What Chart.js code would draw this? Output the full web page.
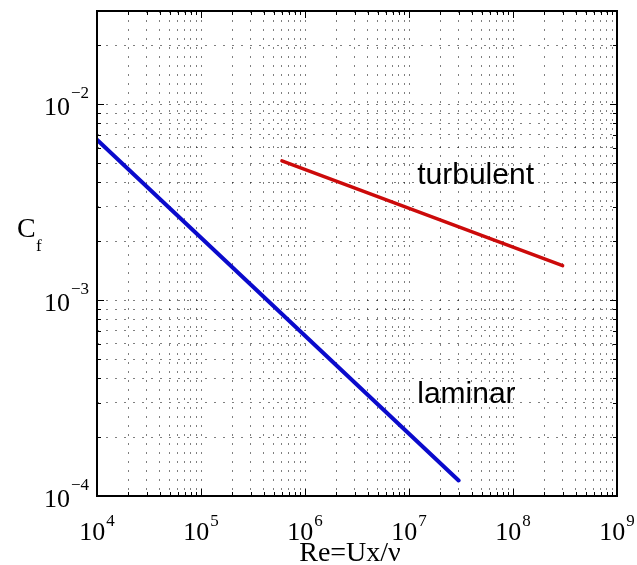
<!DOCTYPE html>
<html>
<head>
<meta charset="utf-8">
<script src="https://cdn.jsdelivr.net/npm/chart.js@4.4.0/dist/chart.umd.min.js"></script>
<style>
  html, body { margin: 0; padding: 0; background: #fff; }
  canvas { display: block; }
</style>
</head>
<body>
<canvas id="cf" width="637" height="565"></canvas>
<script>
// skin friction coefficient against Reynolds number, log-log
var laminarRe = [1e4, 3e7];
var laminarCf = [6.6e-3, 1.2e-4];
var turbulentRe = [6e5, 3e8];
var turbulentCf = [5.15e-3, 1.5e-3];

var xExponents = [4, 5, 6, 7, 8, 9];
var yExponents = [-4, -3, -2];
var xRange = [1e4, 1e9];
var yRange = [1e-4, 3e-2];

var curveNames = ['turbulent', 'laminar'];
var curveNameRe = [1.2e7, 1.2e7];
var curveNameCf = [3.9e-3, 3e-4];

function toPoints(xs, ys) {
  return xs.map(function (x, i) { return {x: x, y: ys[i]}; });
}

// 1..9 in every decade, kept inside the axis limits
function logTicks(lo, hi) {
  var out = [];
  for (var e = Math.floor(Math.log10(lo)); e <= Math.ceil(Math.log10(hi)); e++) {
    for (var m = 1; m <= 9; m++) {
      var v = m * Math.pow(10, e);
      if (v >= lo * 0.999 && v <= hi * 1.001) out.push({value: v});
    }
  }
  return out;
}

function isDecade(v) {
  var l = Math.log10(v);
  return Math.abs(l - Math.round(l)) < 1e-6;
}

var SERIF = '"Liberation Serif", "Times New Roman", serif';

// draws 10 with a raised exponent, x is the left edge
function drawPower(ctx, e, x, y, yExp) {
  var exp = e < 0 ? '\u2212' + (-e) : String(e);
  ctx.font = '26px ' + SERIF;
  ctx.fillText('10', x, y);
  var w = ctx.measureText('10').width;
  ctx.font = '17px ' + SERIF;
  ctx.fillText(exp, x + w + 1, yExp);
}

function powerWidth(ctx, e) {
  var exp = e < 0 ? '\u2212' + (-e) : String(e);
  ctx.font = '26px ' + SERIF;
  var w = ctx.measureText('10').width;
  ctx.font = '17px ' + SERIF;
  return w + 1 + ctx.measureText(exp).width;
}

var axesBox = {
  id: 'axesBox',
  afterDraw: function (chart) {
    var ctx = chart.ctx, a = chart.chartArea;
    var xs = chart.scales.x, ys = chart.scales.y;
    ctx.save();
    ctx.strokeStyle = '#000';
    ctx.fillStyle = '#000';

    // inward tick marks on all four sides
    ctx.lineWidth = 1;
    ctx.beginPath();
    xs.ticks.forEach(function (t) {
      var px = Math.round(xs.getPixelForValue(t.value)) + 0.5;
      var len = isDecade(t.value) ? 7 : 4;
      ctx.moveTo(px, a.bottom); ctx.lineTo(px, a.bottom - len);
      ctx.moveTo(px, a.top); ctx.lineTo(px, a.top + len);
    });
    ys.ticks.forEach(function (t) {
      var py = Math.round(ys.getPixelForValue(t.value)) + 0.5;
      var len = isDecade(t.value) ? 7 : 4;
      ctx.moveTo(a.left, py); ctx.lineTo(a.left + len, py);
      ctx.moveTo(a.right, py); ctx.lineTo(a.right - len, py);
    });
    ctx.stroke();

    ctx.lineWidth = 2;
    ctx.strokeRect(a.left, a.top, a.right - a.left, a.bottom - a.top);

    // tick labels
    ctx.textAlign = 'left';
    ctx.textBaseline = 'alphabetic';
    xExponents.forEach(function (e) {
      var px = xs.getPixelForValue(Math.pow(10, e));
      var w = powerWidth(ctx, e);
      drawPower(ctx, e, px - w / 2, 540, 526);
    });
    yExponents.forEach(function (e) {
      var py = ys.getPixelForValue(Math.pow(10, e));
      var w = powerWidth(ctx, e);
      drawPower(ctx, e, a.left - 8 - w, py + 11, py - 6);
    });

    // axis titles
    ctx.font = '28px ' + SERIF;
    ctx.textAlign = 'center';
    ctx.fillText('Re=Ux/\u03bd', 350, 561);
    ctx.textAlign = 'left';
    ctx.fillText('C', 17, 237);
    ctx.font = '17px ' + SERIF;
    ctx.fillText('f', 36, 251);

    // curve names
    ctx.font = '30px "Liberation Sans", Arial, sans-serif';
    curveNames.forEach(function (name, i) {
      ctx.fillText(name, xs.getPixelForValue(curveNameRe[i]), ys.getPixelForValue(curveNameCf[i]));
    });
    ctx.restore();
  }
};

var gridOpts = {color: 'rgba(0,0,0,0.5)', lineWidth: 1, drawTicks: false};
var borderOpts = {display: false, dash: [2, 7]};

new Chart(document.getElementById('cf'), {
  type: 'line',
  data: {
    datasets: [
      {
        label: 'laminar',
        data: toPoints(laminarRe, laminarCf),
        borderColor: '#0a0acc',
        borderWidth: 4,
        borderCapStyle: 'round',
        pointRadius: 0,
        fill: false
      },
      {
        label: 'turbulent',
        data: toPoints(turbulentRe, turbulentCf),
        borderColor: '#cc0a0a',
        borderWidth: 3.5,
        borderCapStyle: 'round',
        pointRadius: 0,
        fill: false
      }
    ]
  },
  options: {
    responsive: false,
    animation: false,
    devicePixelRatio: 1,
    layout: {padding: {left: 97, top: 11, right: 20, bottom: 69}},
    plugins: {legend: {display: false}, tooltip: {enabled: false}},
    scales: {
      x: {
        type: 'logarithmic',
        min: xRange[0],
        max: xRange[1],
        afterBuildTicks: function (s) { s.ticks = logTicks(xRange[0], xRange[1]); },
        ticks: {display: false, autoSkip: false},
        grid: gridOpts,
        border: borderOpts
      },
      y: {
        type: 'logarithmic',
        min: yRange[0],
        max: yRange[1],
        afterBuildTicks: function (s) { s.ticks = logTicks(yRange[0], yRange[1]); },
        ticks: {display: false, autoSkip: false},
        grid: gridOpts,
        border: borderOpts
      }
    }
  },
  plugins: [axesBox]
});
</script>
</body>
</html>
